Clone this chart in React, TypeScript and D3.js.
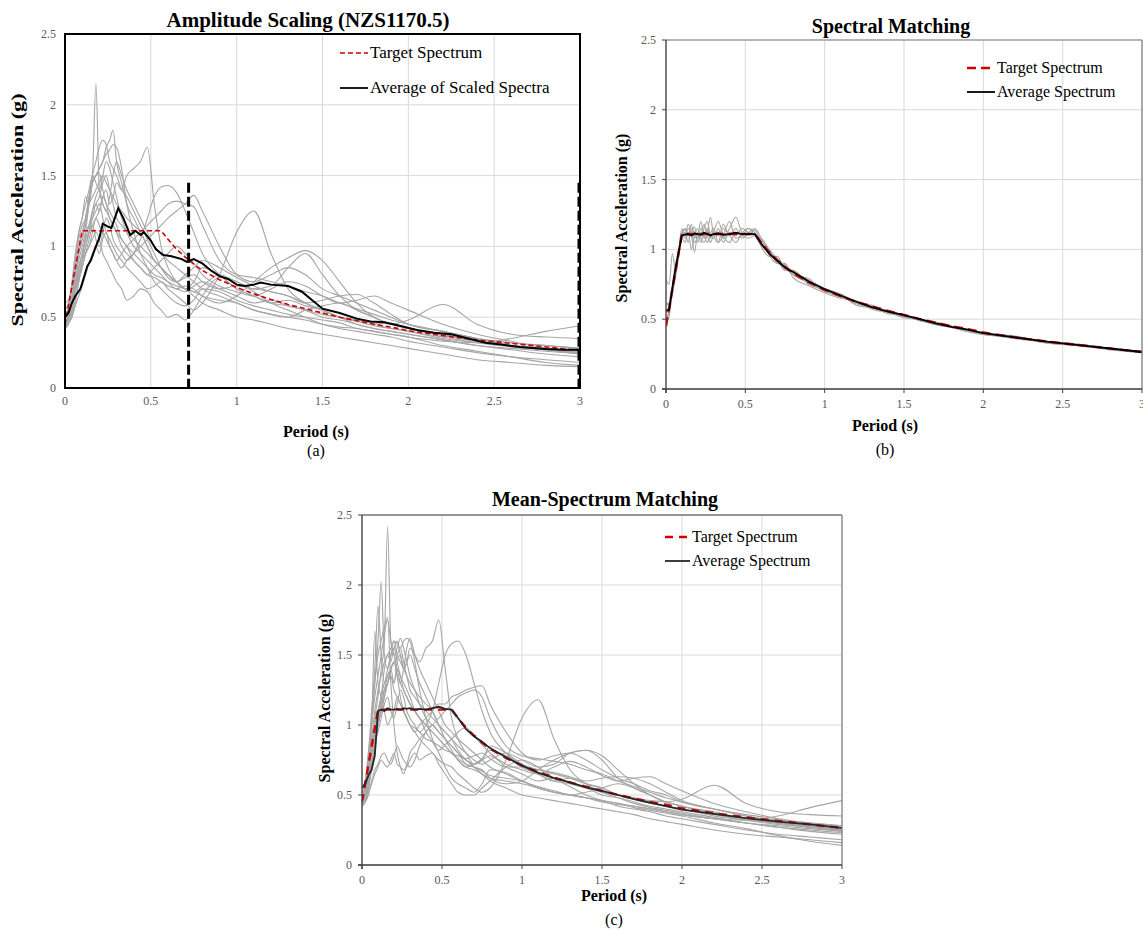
import React from 'react';
import * as d3 from 'd3';

// ---------- shared axes ----------
const xTicks = [0, 0.5, 1, 1.5, 2, 2.5, 3];
const yTicks = [0, 0.5, 1, 1.5, 2, 2.5];

// period grid used by the individual record spectra (s)
const periodGrid = [0, 0.02, 0.04, 0.06, 0.08, 0.1, 0.12, 0.14, 0.16, 0.18, 0.2, 0.22, 0.24, 0.26, 0.28, 0.3, 0.33, 0.36, 0.4, 0.44, 0.48, 0.52, 0.56, 0.6, 0.65, 0.7, 0.75, 0.8, 0.9, 1.0, 1.1, 1.2, 1.3, 1.4, 1.5, 1.6, 1.7, 1.8, 1.9, 2.0, 2.2, 2.4, 2.6, 2.8, 3.0];

// ---------- target spectrum ----------
const targetPeriods = [0, 0.1, 0.56, 0.6, 0.65, 0.7, 0.75, 0.8, 0.9, 1.0, 1.1, 1.2, 1.3, 1.4, 1.5, 1.6, 1.7, 1.8, 1.9, 2.0, 2.2, 2.4, 2.6, 2.8, 3.0];
const targetSa = [0.45, 1.11, 1.11, 1.05, 0.98, 0.925, 0.875, 0.83, 0.765, 0.71, 0.665, 0.625, 0.59, 0.56, 0.53, 0.5, 0.475, 0.45, 0.43, 0.405, 0.37, 0.34, 0.315, 0.29, 0.265];

// ---------- (a) amplitude scaling ----------
const avgAPeriods = [0, 0.02, 0.04, 0.06, 0.09, 0.11, 0.13, 0.15, 0.18, 0.2, 0.22, 0.25, 0.27, 0.29, 0.31, 0.34, 0.38, 0.41, 0.44, 0.46, 0.5, 0.53, 0.57, 0.62, 0.68, 0.71, 0.75, 0.8, 0.85, 0.9, 0.95, 1.0, 1.05, 1.1, 1.14, 1.2, 1.3, 1.38, 1.44, 1.5, 1.6, 1.7, 1.78, 1.86, 1.95, 2.05, 2.15, 2.25, 2.35, 2.45, 2.55, 2.65, 2.8, 2.9, 3.0];
const avgASa = [0.5, 0.53, 0.6, 0.65, 0.7, 0.78, 0.86, 0.9, 1.0, 1.06, 1.16, 1.14, 1.13, 1.2, 1.27, 1.2, 1.08, 1.11, 1.08, 1.1, 1.04, 0.98, 0.94, 0.93, 0.91, 0.89, 0.91, 0.88, 0.83, 0.79, 0.77, 0.73, 0.72, 0.73, 0.745, 0.73, 0.72, 0.68, 0.62, 0.56, 0.53, 0.49, 0.47, 0.465, 0.44, 0.41, 0.39, 0.38, 0.35, 0.32, 0.305, 0.29, 0.275, 0.27, 0.27];
const markerPeriods = [0.72, 3.0];
const markerTop = 1.45;

const recordsA = [
  [0.45, 0.5, 0.62, 0.8, 0.95, 1.05, 1.2, 1.35, 1.5, 2.15, 1.4, 1.3, 1.25, 1.2, 1.15, 1.1, 1.0, 0.95, 0.9, 0.85, 0.8, 0.78, 0.75, 0.72, 0.7, 0.68, 0.72, 0.75, 0.7, 0.65, 0.6, 0.62, 0.58, 0.55, 0.5, 0.48, 0.45, 0.42, 0.4, 0.38, 0.34, 0.3, 0.27, 0.24, 0.22],
  [0.5, 0.55, 0.7, 0.9, 1.1, 1.2, 1.35, 1.3, 1.45, 1.5, 1.55, 1.6, 1.7, 1.75, 1.82, 1.6, 1.45, 1.3, 1.2, 1.1, 1.0, 0.9, 0.85, 0.8, 0.75, 0.7, 0.68, 0.72, 0.8, 0.75, 0.7, 0.72, 0.85, 0.95, 0.8, 0.65, 0.55, 0.5, 0.45, 0.42, 0.38, 0.33, 0.3, 0.27, 0.25],
  [0.48, 0.52, 0.6, 0.75, 0.9, 1.0, 1.1, 1.15, 1.2, 1.3, 1.25, 1.35, 1.4, 1.3, 1.35, 1.45, 1.4, 1.5, 1.55, 1.6, 1.7, 1.3, 1.0, 0.85, 0.75, 0.7, 0.75, 0.85, 0.8, 0.7, 0.65, 0.6, 0.62, 0.58, 0.55, 0.5, 0.48, 0.46, 0.45, 0.42, 0.37, 0.33, 0.3, 0.28, 0.26],
  [0.44, 0.46, 0.5, 0.6, 0.75, 0.85, 0.95, 1.0, 1.05, 1.1, 1.05, 0.95, 0.9, 0.85, 0.8, 0.75, 0.7, 0.62, 0.65, 0.7, 0.68, 0.6, 0.55, 0.5, 0.52, 0.48, 0.55, 0.65, 0.78, 0.75, 0.68, 0.6, 0.55, 0.5, 0.45, 0.42, 0.4, 0.38, 0.36, 0.33, 0.29, 0.25, 0.22, 0.2, 0.18],
  [0.42, 0.45, 0.55, 0.7, 0.85, 0.9, 1.0, 1.1, 1.15, 1.05, 1.0, 1.1, 1.2, 1.15, 1.05, 1.0, 0.95, 0.9, 0.95, 1.05, 1.2, 1.35, 1.42, 1.43, 1.38, 1.25, 1.1, 0.95, 0.8, 0.7, 0.65, 0.6, 0.58, 0.55, 0.52, 0.5, 0.48, 0.45, 0.42, 0.4, 0.35, 0.32, 0.3, 0.27, 0.25],
  [0.5, 0.52, 0.58, 0.7, 0.8, 0.9, 0.95, 1.0, 1.1, 1.2, 1.15, 1.1, 1.05, 1.0, 0.95, 0.9, 0.85, 0.9, 0.95, 1.0, 1.05, 1.1, 1.15, 1.2, 1.25, 1.3, 1.36, 1.25, 1.0, 0.8, 0.75, 0.8, 0.85, 0.8, 0.7, 0.65, 0.6, 0.55, 0.5, 0.45, 0.4, 0.35, 0.32, 0.3, 0.28],
  [0.46, 0.5, 0.6, 0.72, 0.85, 0.95, 1.05, 1.1, 1.2, 1.25, 1.3, 1.2, 1.1, 1.05, 1.0, 0.95, 0.9, 0.85, 0.8, 0.75, 0.7, 0.72, 0.75, 0.7, 0.65, 0.6, 0.55, 0.6, 0.8, 1.1, 1.25, 0.95, 0.7, 0.6, 0.55, 0.5, 0.45, 0.42, 0.4, 0.38, 0.34, 0.3, 0.28, 0.26, 0.24],
  [0.55, 0.6, 0.75, 0.95, 1.1, 1.2, 1.3, 1.4, 1.5, 1.45, 1.4, 1.5, 1.6, 1.55, 1.45, 1.35, 1.2, 1.1, 1.0, 0.95, 0.9, 0.85, 0.8, 0.75, 0.7, 0.72, 0.7, 0.65, 0.6, 0.65, 0.75, 0.85, 0.92, 0.97, 0.9, 0.75, 0.6, 0.5, 0.45, 0.42, 0.38, 0.33, 0.3, 0.28, 0.26],
  [0.48, 0.5, 0.58, 0.68, 0.8, 0.9, 1.0, 1.1, 1.25, 1.35, 1.4, 1.3, 1.25, 1.35, 1.5, 1.6, 1.5, 1.4, 1.3, 1.2, 1.1, 1.0, 0.95, 0.9, 0.85, 0.8, 0.75, 0.7, 0.65, 0.6, 0.55, 0.52, 0.5, 0.55, 0.58, 0.6, 0.55, 0.5, 0.45, 0.48, 0.59, 0.45, 0.38, 0.36, 0.35],
  [0.45, 0.48, 0.55, 0.68, 0.78, 0.85, 0.95, 1.05, 1.15, 1.2, 1.25, 1.35, 1.3, 1.2, 1.15, 1.1, 1.05, 1.0, 0.95, 0.9, 0.85, 0.8, 0.78, 0.75, 0.72, 0.7, 0.68, 0.65, 0.62, 0.6, 0.55, 0.52, 0.5, 0.48, 0.45, 0.43, 0.42, 0.4, 0.38, 0.36, 0.33, 0.32, 0.35, 0.4, 0.44],
  [0.52, 0.56, 0.65, 0.8, 0.95, 1.05, 1.15, 1.3, 1.45, 1.5, 1.55, 1.6, 1.65, 1.68, 1.72, 1.7, 1.55, 1.3, 1.1, 0.95, 0.85, 0.75, 0.7, 0.65, 0.6, 0.58, 0.62, 0.7, 0.68, 0.62, 0.58, 0.55, 0.52, 0.5, 0.48, 0.46, 0.42, 0.4, 0.38, 0.36, 0.3, 0.26, 0.22, 0.18, 0.16],
  [0.43, 0.46, 0.52, 0.62, 0.75, 0.9, 1.1, 1.3, 1.45, 1.5, 1.52, 1.4, 1.3, 1.25, 1.2, 1.15, 1.05, 1.0, 0.9, 0.85, 0.8, 0.85, 0.9, 0.95, 1.0, 0.95, 0.88, 0.8, 0.72, 0.68, 0.65, 0.7, 0.75, 0.72, 0.65, 0.6, 0.62, 0.65, 0.6, 0.55, 0.45, 0.38, 0.33, 0.28, 0.25],
  [0.5, 0.55, 0.7, 0.9, 1.05, 1.15, 1.2, 1.35, 1.5, 1.6, 1.7, 1.75, 1.72, 1.6, 1.55, 1.5, 1.4, 1.35, 1.25, 1.15, 1.05, 0.95, 0.85, 0.78, 0.75, 0.8, 0.85, 0.9, 0.85, 0.78, 0.72, 0.68, 0.65, 0.6, 0.55, 0.5, 0.47, 0.44, 0.42, 0.4, 0.36, 0.32, 0.29, 0.27, 0.25],
  [0.44, 0.46, 0.5, 0.58, 0.65, 0.72, 0.8, 0.88, 0.95, 1.0, 0.95, 1.05, 1.1, 1.0, 0.95, 0.9, 0.95, 1.0, 1.05, 1.1, 1.15, 1.2, 1.25, 1.3, 1.32, 1.3, 1.28, 1.15, 0.9, 0.8, 0.78, 0.75, 0.72, 0.68, 0.65, 0.6, 0.56, 0.52, 0.48, 0.45, 0.4, 0.35, 0.3, 0.27, 0.24],
  [0.47, 0.5, 0.6, 0.72, 0.85, 0.95, 1.05, 1.15, 1.25, 1.3, 1.35, 1.45, 1.5, 1.4, 1.3, 1.2, 1.15, 1.1, 1.05, 1.0, 0.95, 0.9, 0.85, 0.8, 0.75, 0.78, 0.8, 0.75, 0.7, 0.72, 0.7, 0.68, 0.65, 0.6, 0.62, 0.65, 0.66, 0.6, 0.52, 0.45, 0.4, 0.35, 0.32, 0.3, 0.28],
  [0.6, 0.62, 0.7, 0.85, 1.0, 1.1, 1.2, 1.3, 1.35, 1.4, 1.45, 1.5, 1.45, 1.4, 1.35, 1.3, 1.25, 1.2, 1.15, 1.1, 1.0, 0.9, 0.85, 0.8, 0.75, 0.7, 0.65, 0.6, 0.55, 0.5, 0.48, 0.45, 0.42, 0.4, 0.38, 0.36, 0.34, 0.32, 0.3, 0.28, 0.24, 0.2, 0.18, 0.16, 0.15],
];

// ---------- (b) spectral matching ----------
const avgBSa = [0.56, 0.57, 0.72, 0.86, 0.98, 1.1, 1.105, 1.11, 1.1, 1.115, 1.11, 1.105, 1.12, 1.11, 1.1, 1.11, 1.115, 1.105, 1.11, 1.12, 1.11, 1.11, 1.11, 1.04, 0.97, 0.92, 0.87, 0.84, 0.77, 0.715, 0.67, 0.625, 0.585, 0.555, 0.53, 0.5, 0.47, 0.445, 0.425, 0.4, 0.37, 0.34, 0.315, 0.29, 0.265];
const recordsB = [
  [0.6, 0.62, 0.75, 0.9, 1.0, 1.12, 1.15, 1.1, 1.18, 1.08, 1.12, 1.05, 1.15, 1.2, 1.1, 1.08, 1.15, 1.05, 1.12, 1.1, 1.15, 1.12, 1.1, 1.08, 1.0, 0.9, 0.88, 0.82, 0.76, 0.7, 0.66, 0.62, 0.6, 0.55, 0.52, 0.5, 0.47, 0.44, 0.42, 0.4, 0.37, 0.34, 0.31, 0.29, 0.26],
  [0.5, 0.55, 0.68, 0.8, 0.95, 1.08, 1.05, 1.12, 1.0, 1.1, 1.15, 1.08, 1.05, 1.1, 1.12, 1.15, 1.05, 1.1, 1.2, 1.08, 1.1, 1.15, 1.12, 1.02, 0.95, 0.95, 0.86, 0.84, 0.78, 0.72, 0.68, 0.6, 0.58, 0.56, 0.52, 0.49, 0.46, 0.45, 0.42, 0.39, 0.37, 0.33, 0.31, 0.28, 0.26],
  [0.78, 0.75, 0.97, 0.85, 1.0, 1.15, 1.1, 1.18, 1.12, 1.05, 1.1, 1.2, 1.08, 1.12, 1.23, 1.1, 1.05, 1.18, 1.1, 1.15, 1.08, 1.12, 1.15, 1.08, 0.96, 0.9, 0.9, 0.8, 0.74, 0.69, 0.65, 0.63, 0.57, 0.55, 0.51, 0.5, 0.46, 0.44, 0.43, 0.4, 0.36, 0.34, 0.32, 0.29, 0.27],
  [0.48, 0.52, 0.7, 0.82, 0.96, 1.1, 1.12, 1.05, 1.15, 1.12, 1.08, 1.15, 1.1, 1.05, 1.1, 1.13, 1.2, 1.1, 1.05, 1.12, 1.1, 1.08, 1.1, 1.06, 1.0, 0.93, 0.85, 0.85, 0.75, 0.71, 0.67, 0.61, 0.59, 0.54, 0.53, 0.49, 0.47, 0.44, 0.41, 0.39, 0.37, 0.34, 0.31, 0.29, 0.26],
  [0.62, 0.6, 0.7, 0.88, 0.98, 1.12, 1.08, 1.15, 1.1, 0.98, 1.12, 1.1, 1.18, 1.1, 1.05, 1.1, 1.12, 1.08, 1.15, 1.23, 1.12, 1.1, 1.14, 1.05, 0.98, 0.91, 0.89, 0.82, 0.79, 0.7, 0.68, 0.62, 0.58, 0.56, 0.53, 0.5, 0.48, 0.45, 0.42, 0.4, 0.38, 0.33, 0.31, 0.29, 0.27],
  [0.45, 0.58, 0.72, 0.85, 0.98, 1.1, 1.14, 1.1, 1.12, 1.16, 1.05, 1.12, 1.1, 1.15, 1.08, 1.12, 1.1, 1.15, 1.1, 1.05, 1.12, 1.15, 1.1, 1.03, 0.99, 0.92, 0.86, 0.83, 0.77, 0.72, 0.66, 0.63, 0.59, 0.55, 0.52, 0.5, 0.47, 0.44, 0.42, 0.4, 0.37, 0.33, 0.32, 0.29, 0.26],
];

// ---------- (c) mean-spectrum matching ----------
const avgCSa = [0.55, 0.58, 0.64, 0.68, 0.78, 1.1, 1.11, 1.1, 1.12, 1.11, 1.11, 1.115, 1.11, 1.12, 1.115, 1.12, 1.11, 1.115, 1.11, 1.12, 1.13, 1.115, 1.11, 1.05, 0.97, 0.92, 0.88, 0.835, 0.77, 0.71, 0.66, 0.62, 0.59, 0.555, 0.53, 0.5, 0.47, 0.445, 0.42, 0.395, 0.365, 0.335, 0.31, 0.29, 0.265];
const recordsC = [
  [0.45, 0.5, 0.65, 0.85, 1.05, 1.2, 1.4, 1.6, 2.42, 1.6, 1.5, 1.4, 1.3, 1.25, 1.2, 1.15, 1.1, 1.05, 1.0, 0.95, 0.9, 0.85, 0.8, 0.78, 0.75, 0.72, 0.75, 0.78, 0.7, 0.65, 0.6, 0.62, 0.58, 0.55, 0.5, 0.48, 0.45, 0.42, 0.4, 0.38, 0.34, 0.3, 0.27, 0.24, 0.22],
  [0.5, 0.55, 0.75, 1.0, 1.3, 1.6, 2.02, 1.5, 1.4, 1.5, 1.55, 1.6, 1.5, 1.4, 1.45, 1.5, 1.4, 1.3, 1.2, 1.1, 1.0, 0.95, 0.9, 0.85, 0.8, 0.75, 0.72, 0.75, 0.8, 0.75, 0.7, 0.72, 0.8, 0.82, 0.75, 0.62, 0.55, 0.5, 0.45, 0.42, 0.38, 0.33, 0.3, 0.27, 0.25],
  [0.48, 0.52, 0.62, 0.8, 0.95, 1.1, 1.2, 1.3, 1.35, 1.4, 1.3, 1.45, 1.5, 1.4, 1.45, 1.55, 1.5, 1.45, 1.55, 1.6, 1.75, 1.4, 1.05, 0.9, 0.8, 0.72, 0.75, 0.85, 0.8, 0.72, 0.65, 0.6, 0.62, 0.58, 0.55, 0.5, 0.48, 0.46, 0.45, 0.42, 0.37, 0.33, 0.3, 0.28, 0.26],
  [0.44, 0.45, 0.5, 0.58, 0.65, 0.7, 0.75, 0.72, 0.7, 0.75, 0.8, 0.72, 0.7, 0.68, 0.7, 0.75, 0.8, 0.75, 0.78, 0.8, 0.72, 0.65, 0.58, 0.52, 0.5, 0.5, 0.55, 0.6, 0.7, 0.75, 0.7, 0.62, 0.56, 0.5, 0.46, 0.42, 0.4, 0.38, 0.35, 0.33, 0.29, 0.25, 0.22, 0.2, 0.18],
  [0.42, 0.45, 0.55, 0.72, 0.88, 0.95, 1.05, 1.15, 1.2, 1.1, 1.05, 1.15, 1.25, 1.2, 1.1, 1.05, 1.0, 0.95, 1.0, 1.1, 1.3, 1.5, 1.58, 1.6, 1.5, 1.3, 1.1, 0.95, 0.8, 0.7, 0.65, 0.6, 0.58, 0.55, 0.52, 0.5, 0.48, 0.45, 0.42, 0.4, 0.35, 0.32, 0.3, 0.27, 0.25],
  [0.5, 0.52, 0.58, 0.7, 0.85, 1.0, 1.1, 1.2, 1.3, 1.35, 1.25, 1.2, 1.15, 1.1, 1.05, 1.0, 0.95, 1.0, 1.05, 1.1, 1.15, 1.15, 1.2, 1.22, 1.25, 1.27, 1.28, 1.15, 0.95, 0.8, 0.75, 0.78, 0.8, 0.75, 0.68, 0.62, 0.58, 0.53, 0.5, 0.45, 0.4, 0.36, 0.33, 0.3, 0.28],
  [0.46, 0.5, 0.62, 0.8, 1.0, 1.1, 1.2, 1.25, 1.3, 1.4, 1.45, 1.35, 1.2, 1.1, 1.05, 1.0, 0.95, 0.9, 0.85, 0.8, 0.75, 0.72, 0.7, 0.65, 0.6, 0.55, 0.52, 0.55, 0.75, 1.05, 1.18, 0.9, 0.68, 0.58, 0.52, 0.48, 0.44, 0.41, 0.39, 0.37, 0.33, 0.3, 0.28, 0.26, 0.24],
  [0.55, 0.6, 0.8, 1.0, 1.2, 1.35, 1.5, 1.65, 1.75, 1.6, 1.5, 1.55, 1.62, 1.55, 1.45, 1.35, 1.25, 1.15, 1.05, 1.0, 0.95, 0.9, 0.85, 0.8, 0.72, 0.7, 0.68, 0.62, 0.58, 0.6, 0.68, 0.75, 0.8, 0.82, 0.78, 0.68, 0.58, 0.5, 0.45, 0.42, 0.37, 0.33, 0.3, 0.28, 0.26],
  [0.48, 0.5, 0.58, 0.7, 0.85, 1.0, 1.1, 1.25, 1.3, 1.4, 1.45, 1.35, 1.3, 1.4, 1.55, 1.62, 1.5, 1.4, 1.3, 1.2, 1.1, 1.0, 0.95, 0.9, 0.85, 0.8, 0.75, 0.7, 0.65, 0.6, 0.55, 0.52, 0.5, 0.52, 0.55, 0.58, 0.55, 0.5, 0.45, 0.47, 0.57, 0.44, 0.38, 0.36, 0.35],
  [0.45, 0.48, 0.56, 0.7, 0.85, 1.0, 1.1, 1.2, 1.3, 1.35, 1.3, 1.4, 1.35, 1.25, 1.2, 1.15, 1.1, 1.05, 1.0, 0.95, 0.9, 0.85, 0.8, 0.76, 0.72, 0.7, 0.67, 0.64, 0.62, 0.6, 0.55, 0.52, 0.5, 0.48, 0.45, 0.43, 0.42, 0.4, 0.38, 0.36, 0.33, 0.32, 0.35, 0.41, 0.46],
  [0.52, 0.56, 0.7, 0.9, 1.1, 1.25, 1.35, 1.45, 1.5, 1.55, 1.6, 1.58, 1.55, 1.6, 1.62, 1.6, 1.45, 1.25, 1.05, 0.9, 0.8, 0.7, 0.62, 0.58, 0.55, 0.52, 0.58, 0.68, 0.66, 0.6, 0.56, 0.53, 0.5, 0.48, 0.46, 0.44, 0.41, 0.39, 0.37, 0.35, 0.3, 0.26, 0.21, 0.17, 0.14],
  [0.43, 0.46, 0.55, 0.68, 0.82, 1.0, 1.2, 1.4, 1.5, 1.45, 1.55, 1.45, 1.35, 1.3, 1.25, 1.2, 1.1, 1.05, 0.95, 0.88, 0.82, 0.86, 0.9, 0.95, 0.98, 0.92, 0.86, 0.8, 0.72, 0.68, 0.65, 0.7, 0.74, 0.7, 0.64, 0.6, 0.62, 0.63, 0.58, 0.53, 0.44, 0.38, 0.33, 0.28, 0.25],
  [0.5, 0.58, 0.8, 1.1, 1.4, 1.85, 1.5, 1.3, 1.4, 1.5, 1.6, 1.5, 1.45, 1.4, 1.35, 1.3, 1.25, 1.2, 1.15, 1.1, 1.0, 0.9, 0.82, 0.75, 0.7, 0.72, 0.76, 0.82, 0.78, 0.72, 0.68, 0.65, 0.62, 0.58, 0.55, 0.5, 0.47, 0.44, 0.42, 0.4, 0.36, 0.32, 0.29, 0.27, 0.25],
  [0.44, 0.46, 0.52, 0.6, 0.68, 0.72, 0.78, 0.8, 0.75, 0.72, 0.78, 0.85, 0.8, 0.75, 0.72, 0.7, 0.75, 0.85, 0.95, 1.0, 1.05, 1.1, 1.15, 1.2, 1.23, 1.25, 1.2, 1.05, 0.85, 0.78, 0.76, 0.74, 0.72, 0.68, 0.65, 0.6, 0.56, 0.52, 0.48, 0.45, 0.4, 0.35, 0.3, 0.27, 0.24],
  [0.47, 0.5, 0.62, 0.78, 0.92, 1.05, 1.15, 1.25, 1.35, 1.4, 1.45, 1.5, 1.55, 1.45, 1.35, 1.25, 1.2, 1.15, 1.1, 1.05, 1.0, 0.95, 0.9, 0.82, 0.76, 0.78, 0.8, 0.76, 0.7, 0.7, 0.68, 0.66, 0.63, 0.6, 0.62, 0.63, 0.62, 0.58, 0.52, 0.46, 0.4, 0.35, 0.32, 0.3, 0.28],
  [0.55, 0.6, 0.75, 1.0, 1.3, 1.5, 1.6, 1.7, 1.77, 1.3, 1.0, 0.8, 0.7, 0.65, 0.72, 0.8, 0.85, 0.9, 0.95, 1.0, 0.95, 0.9, 0.85, 0.8, 0.75, 0.7, 0.65, 0.6, 0.55, 0.5, 0.48, 0.46, 0.44, 0.42, 0.4, 0.38, 0.36, 0.33, 0.31, 0.29, 0.25, 0.22, 0.2, 0.18, 0.16],
  [0.5, 0.55, 0.72, 1.0, 1.67, 1.3, 1.2, 1.1, 1.0, 1.05, 1.1, 1.2, 1.15, 1.1, 1.05, 1.0, 0.98, 0.95, 0.9, 0.88, 0.85, 0.82, 0.8, 0.75, 0.7, 0.68, 0.65, 0.62, 0.6, 0.58, 0.55, 0.52, 0.5, 0.48, 0.46, 0.44, 0.42, 0.4, 0.38, 0.36, 0.33, 0.3, 0.27, 0.25, 0.23],
];

const FONT = '"Liberation Serif", "Times New Roman", serif';
const fmt = (v: number) => String(v);

type PanelProps = {
  id: string;
  left: number; right: number; top: number; bottom: number;
  title: string; titleX: number; titleY: number; titleSize: number;
  ylabX: number; ylabY: number; ylabSize: number; ylabStretch: number;
  xlabX: number; xlabY: number; letter: string; letterY: number;
  xTickY: number; yTickX: number;
  records: number[][];
  avgT: number[]; avgV: number[];
  avgLabel: string;
  legX: number; legY1: number; legY2: number; legW: number; legSize: number;
  variant: 'a' | 'b' | 'c';
};

function Panel(p: PanelProps) {
  const x = d3.scaleLinear().domain([0, 3]).range([p.left, p.right]);
  const y = d3.scaleLinear().domain([0, 2.5]).range([p.bottom, p.top]);
  const smooth = d3.line<[number, number]>().x(d => x(d[0])).y(d => y(d[1])).curve(d3.curveMonotoneX);
  const straight = d3.line<[number, number]>().x(d => x(d[0])).y(d => y(d[1]));
  const recPath = (vals: number[]) => smooth(periodGrid.map((t, i) => [t, vals[i]] as [number, number])) || '';
  const targetPath = straight(targetPeriods.map((t, i) => [t, targetSa[i]] as [number, number])) || '';
  const avgPath = straight(p.avgT.map((t, i) => [t, p.avgV[i]] as [number, number])) || '';
  const grid = '#d9d9d9';
  const axisCol = p.variant === 'a' ? '#000' : '#404040';
  const isA = p.variant === 'a';
  const targetDash = isA ? '5,3' : p.variant === 'b' ? '9,5' : '8,6';
  const targetW = isA ? 1.6 : 2.4;
  const avgCol = p.variant === 'c' ? '#262626' : '#000';
  return (
    <g>
      <defs>
        <clipPath id={'clip-' + p.id}>
          <rect x={p.left} y={p.top - 2} width={p.right - p.left + 2} height={p.bottom - p.top + 2} />
        </clipPath>
      </defs>
      {yTicks.map(t => (
        <line key={'gy' + t} x1={p.left} x2={p.right} y1={y(t)} y2={y(t)} stroke={grid} strokeWidth={1} />
      ))}
      {xTicks.map(t => (
        <line key={'gx' + t} x1={x(t)} x2={x(t)} y1={p.top} y2={p.bottom} stroke={grid} strokeWidth={1} />
      ))}
      <g clipPath={`url(#clip-${p.id})`}>
        {p.records.map((r, i) => (
          <path key={'r' + i} d={recPath(r)} fill="none" stroke="#a6a6a6" strokeWidth={1.1} />
        ))}
        <path d={targetPath} fill="none" stroke="#d00000" strokeWidth={targetW} strokeDasharray={targetDash} />
        <path d={avgPath} fill="none" stroke={avgCol} strokeWidth={isA ? 2 : 1.8} />
      </g>
      {isA ? (
        <rect x={p.left} y={p.top} width={p.right - p.left} height={p.bottom - p.top} fill="none" stroke="#000" strokeWidth={2} />
      ) : (
        <g>
          <line x1={p.left} x2={p.right} y1={p.top} y2={p.top} stroke={p.variant === 'b' ? '#7f7f7f' : '#404040'} strokeWidth={1.2} />
          <line x1={p.right} x2={p.right} y1={p.top} y2={p.bottom} stroke="#7f7f7f" strokeWidth={1.2} />
          <line x1={p.left} x2={p.left} y1={p.top} y2={p.bottom + 4} stroke={axisCol} strokeWidth={1.3} />
          <line x1={p.left - 4} x2={p.right} y1={p.bottom} y2={p.bottom} stroke={axisCol} strokeWidth={1.3} />
          {yTicks.map(t => (
            <line key={'ty' + t} x1={p.left - 4} x2={p.left} y1={y(t)} y2={y(t)} stroke={axisCol} strokeWidth={1} />
          ))}
          {xTicks.map(t => (
            <line key={'tx' + t} x1={x(t)} x2={x(t)} y1={p.bottom} y2={p.bottom + 4} stroke={axisCol} strokeWidth={1} />
          ))}
        </g>
      )}
      {isA && markerPeriods.map(m => (
        <line key={'m' + m} x1={x(m) - (m === 3 ? 1 : 0)} x2={x(m) - (m === 3 ? 1 : 0)} y1={y(markerTop)} y2={y(0)} stroke="#000" strokeWidth={3} strokeDasharray="10,4" />
      ))}
      {yTicks.map(t => (
        <text key={'ly' + t} x={p.yTickX} y={y(t) + 4} textAnchor="end" fontFamily={FONT} fontSize={12} fill="#595959">{fmt(t)}</text>
      ))}
      {xTicks.map(t => (
        <text key={'lx' + t} x={x(t)} y={p.xTickY} textAnchor="middle" fontFamily={FONT} fontSize={12} fill="#595959">{fmt(t)}</text>
      ))}
      <text x={p.titleX} y={p.titleY} textAnchor="middle" fontFamily={FONT} fontWeight="bold" fontSize={p.titleSize} fill="#000">{p.title}</text>
      <text transform={`translate(${p.ylabX},${p.ylabY}) rotate(-90) scale(${p.ylabStretch},1)`} textAnchor="middle" fontFamily={FONT} fontWeight="bold" fontSize={p.ylabSize} fill="#000">Spectral Acceleration (g)</text>
      <text x={p.xlabX} y={p.xlabY} textAnchor="middle" fontFamily={FONT} fontWeight="bold" fontSize={16} fill="#000">Period (s)</text>
      <text x={p.xlabX} y={p.letterY} textAnchor="middle" fontFamily={FONT} fontSize={16} fill="#000">{p.letter}</text>
      <line x1={p.legX} x2={p.legX + p.legW} y1={p.legY1} y2={p.legY1} stroke="#d00000" strokeWidth={targetW} strokeDasharray={targetDash} />
      <text x={p.legX + p.legW + 2} y={p.legY1 + 5} fontFamily={FONT} fontSize={p.legSize} fill="#000">Target Spectrum</text>
      <line x1={p.legX} x2={p.legX + p.legW} y1={p.legY2} y2={p.legY2} stroke={avgCol} strokeWidth={1.8} />
      <text x={p.legX + p.legW + 2} y={p.legY2 + 5} fontFamily={FONT} fontSize={p.legSize} fill="#000">{p.avgLabel}</text>
    </g>
  );
}

export default function App() {
  return (
    <svg width={1143} height={930} style={{ position: 'absolute', left: 0, top: 0, background: '#fff' }}>
      <rect x={0} y={0} width={1143} height={930} fill="#fff" />
      <Panel id="a" variant="a" left={65} right={580} top={34} bottom={388}
        title="Amplitude Scaling (NZS1170.5)" titleX={308} titleY={27} titleSize={21}
        ylabX={23} ylabY={210} ylabSize={17} ylabStretch={1.3} xlabX={316} xlabY={437} letter="(a)" letterY={456}
        xTickY={405} yTickX={56}
        records={recordsA} avgT={avgAPeriods} avgV={avgASa} avgLabel="Average of Scaled Spectra"
        legX={340} legY1={53} legY2={88} legW={28} legSize={17} />
      <Panel id="b" variant="b" left={666} right={1142} top={40} bottom={389}
        title="Spectral Matching" titleX={891} titleY={33} titleSize={20}
        ylabX={627} ylabY={218} ylabSize={16} ylabStretch={1} xlabX={885} xlabY={431} letter="(b)" letterY={455}
        xTickY={408} yTickX={656}
        records={recordsB} avgT={periodGrid} avgV={avgBSa} avgLabel="Average Spectrum"
        legX={967} legY1={68} legY2={92} legW={28} legSize={16} />
      <Panel id="c" variant="c" left={362} right={842} top={515} bottom={865}
        title="Mean-Spectrum Matching" titleX={605} titleY={506} titleSize={20}
        ylabX={330} ylabY={698} ylabSize={16} ylabStretch={1} xlabX={614} xlabY={901} letter="(c)" letterY={925}
        xTickY={884} yTickX={352}
        records={recordsC} avgT={periodGrid} avgV={avgCSa} avgLabel="Average Spectrum"
        legX={665} legY1={537} legY2={561} legW={25} legSize={16} />
    </svg>
  );
}
